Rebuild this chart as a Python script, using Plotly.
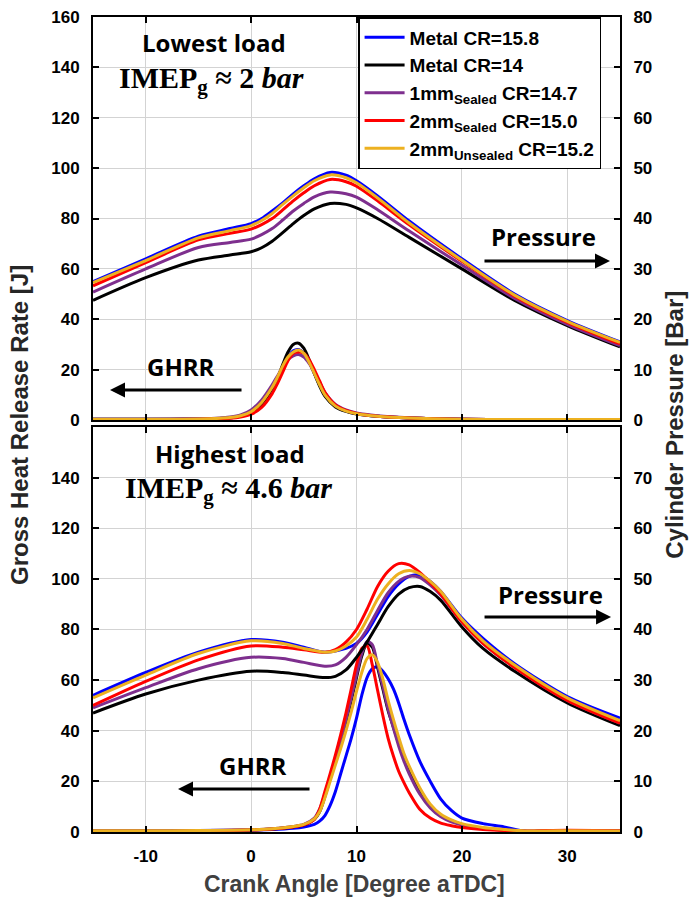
import plotly.graph_objects as go

# ---------------- data ----------------
series_names = [
    "Metal CR=15.8",
    "Metal CR=14",
    "1mm<sub>Sealed</sub> CR=14.7",
    "2mm<sub>Sealed</sub> CR=15.0",
    "2mm<sub>Unsealed</sub> CR=15.2",
]
series_colors = ["#0000FF", "#000000", "#7E2F8E", "#FF0000", "#EDB120"]

# Lowest load (IMEPg ~ 2 bar) -- GHRR [J]
ca_top_ghrr = [-15, -10, -5, -3, -2, -1, 0, 1, 2, 2.5, 3, 3.5, 4, 4.5, 5, 5.5, 6, 6.5, 7, 8, 9, 10, 12, 15, 20, 25, 30, 35]
ghrr_low_metal158 = [0.3, 0.3, 0.4, 0.6, 0.9, 1.5, 3, 6.5, 12.5, 16.5, 21, 25, 27.5, 28, 26.5, 23, 18.5, 14, 10, 5.5, 3.5, 2.5, 1.5, 0.8, 0.3, 0.2, 0.2, 0.2]
ghrr_low_metal14 = [0.3, 0.3, 0.4, 0.6, 0.9, 1.5, 3, 6.5, 12.5, 16.5, 22, 27, 30, 30.5, 28.5, 24, 18.5, 13.5, 9.5, 5.2, 3.4, 2.4, 1.5, 0.8, 0.3, 0.2, 0.2, 0.2]
ghrr_low_1mm_sealed = [0.3, 0.3, 0.5, 0.8, 1.2, 2, 4, 8, 14, 17.5, 21, 24, 25.5, 26, 25, 22.5, 19, 15, 11, 6.2, 4, 2.8, 1.7, 0.9, 0.3, 0.2, 0.2, 0.2]
ghrr_low_2mm_sealed = [0.2, 0.2, 0.3, 0.5, 0.7, 1.2, 2.3, 5, 10.5, 14.5, 19, 23.5, 26.5, 27, 26.5, 24, 20, 15.5, 11, 6, 3.8, 2.6, 1.5, 0.8, 0.3, 0.2, 0.2, 0.2]
ghrr_low_2mm_unsealed = [0.3, 0.3, 0.4, 0.7, 1, 1.7, 3.3, 7, 13, 17, 21.5, 25, 27, 27.8, 26.5, 23, 18.5, 14, 10, 5.5, 3.5, 2.5, 1.5, 0.8, 0.3, 0.2, 0.2, 0.2]

# Lowest load -- cylinder pressure [bar]
ca_top_p = [-15, -10, -5, -2, 0, 1, 2, 3, 4, 5, 6, 7.5, 9, 10, 12, 15, 20, 25, 30, 35]
p_low_metal158 = [27.45, 32.0, 36.5, 38.0, 39.0, 40.0, 41.5, 43.1, 44.9, 46.5, 47.9, 49.15, 48.6, 47.5, 44.5, 39.5, 32.0, 25.0, 19.75, 15.5]
p_low_metal14 = [23.75, 28.25, 31.75, 32.75, 33.4, 34.2, 35.5, 37.2, 39.0, 40.6, 41.9, 43.0, 42.8, 42.1, 40.0, 36.25, 30.0, 23.75, 18.75, 14.5]
p_low_1mm_sealed = [25.4, 30.0, 34.25, 35.25, 35.9, 36.8, 38.0, 39.7, 41.5, 43.0, 44.3, 45.25, 44.9, 44.25, 41.75, 37.5, 30.75, 24.15, 19.0, 14.75]
p_low_2mm_sealed = [26.65, 31.25, 35.75, 37.05, 37.9, 38.8, 40.0, 41.7, 43.5, 45.1, 46.5, 47.75, 47.3, 46.4, 43.5, 38.75, 31.5, 24.6, 19.4, 15.1]
p_low_2mm_unsealed = [27.25, 31.65, 36.15, 37.6, 38.6, 39.6, 41.0, 42.8, 44.5, 46.1, 47.5, 48.65, 48.1, 47.1, 44.1, 39.1, 31.7, 24.8, 19.6, 15.4]

# Highest load (IMEPg ~ 4.6 bar) -- GHRR [J]
ca_bot_ghrr = [-15, -10, -5, 0, 2, 4, 5, 6, 6.5, 7, 7.5, 8, 8.5, 9, 9.5, 10, 10.5, 11, 11.5, 12, 12.5, 13, 13.5, 14, 14.5, 15, 16, 17, 18, 19, 20, 22, 24, 26, 28, 30, 35]
ghrr_high_metal158 = [0.5, 0.5, 0.6, 0.8, 1, 1.5, 2, 3, 4.3, 6.5, 10.5, 16, 23, 30, 37, 45, 54, 61, 64.5, 65.3, 63.5, 60.5, 56.5, 51, 44.5, 38.5, 28, 20, 13, 8.5, 5.5, 3.3, 2, 0.3, 0.2, 0.2, 0.3]
ghrr_high_metal14 = [0.3, 0.3, 0.5, 0.8, 1.2, 2, 2.8, 5, 8, 14, 21, 28, 35.5, 43.5, 52, 61, 69.5, 74.5, 73, 65, 56.5, 48, 41.5, 35, 29, 24.5, 16, 10, 6.5, 4.5, 3, 1.5, 0.8, 0.3, 0.5, 0.6, 0.4]
ghrr_high_1mm_sealed = [0.5, 0.5, 0.6, 0.9, 1.3, 2.2, 3, 5.5, 9, 15, 22, 29, 36.5, 44.5, 53, 62, 70.5, 75.3, 74, 66, 57.5, 48.5, 41, 34, 28, 23, 15, 9.5, 6, 4, 2.8, 1.4, 0.7, 0.3, 0.5, 0.6, 0.4]
ghrr_high_2mm_sealed = [0.3, 0.3, 0.4, 0.8, 1.2, 2, 2.8, 5, 9, 16, 23, 30.5, 38.5, 47, 56.5, 66, 72.5, 73.5, 66, 56, 46, 37, 30, 24, 19.5, 15.5, 9, 5.5, 3.5, 2.5, 1.8, 1, 0.6, 0.4, 0.6, 0.7, 0.5]
ghrr_high_2mm_unsealed = [0.5, 0.5, 0.6, 0.9, 1.3, 2.2, 3, 5.2, 8, 13.5, 20, 26.5, 33, 40, 47.5, 55.5, 63, 68.5, 70, 67, 60.5, 52, 44.5, 37.5, 31, 26, 17.5, 11, 7, 4.8, 3.3, 1.8, 1, 0.4, 0.4, 0.5, 0.4]

# Highest load -- cylinder pressure [bar]
ca_bot_p = [-15, -10, -5, 0, 3, 5, 7, 8, 9, 10, 11, 12, 13, 14, 15, 16, 17, 18, 20, 22, 25, 30, 35]
p_high_metal158 = [27.0, 31.5, 35.5, 38.0, 37.5, 36.5, 35.5, 35.75, 36.25, 37.25, 39.5, 43.0, 46.5, 49.0, 50.5, 50.75, 49.5, 47.5, 42.25, 38.25, 33.25, 26.75, 22.5]
p_high_metal14 = [23.5, 27.25, 30.0, 31.75, 31.5, 31.0, 30.5, 30.75, 32.0, 34.5, 37.5, 41.0, 44.5, 47.0, 48.25, 48.5, 47.5, 45.75, 40.5, 36.25, 31.75, 25.5, 21.0]
p_high_1mm_sealed = [24.5, 28.5, 32.25, 34.5, 34.25, 33.5, 32.75, 33.0, 34.5, 37.0, 40.0, 43.75, 47.25, 49.5, 50.5, 50.25, 48.75, 46.75, 41.5, 37.25, 32.5, 26.0, 21.5]
p_high_2mm_sealed = [25.0, 29.75, 34.0, 36.75, 36.5, 36.0, 35.5, 36.0, 37.5, 40.0, 44.0, 48.5, 51.5, 53.0, 52.75, 51.25, 49.25, 47.0, 41.5, 37.25, 32.5, 26.0, 21.5]
p_high_2mm_unsealed = [26.5, 31.0, 35.25, 37.75, 37.25, 36.25, 35.5, 35.75, 36.75, 38.5, 42.0, 46.0, 49.0, 51.0, 51.65, 51.0, 49.5, 47.5, 42.0, 37.75, 33.0, 26.5, 22.0]

ghrr_low = [ghrr_low_metal158, ghrr_low_metal14, ghrr_low_1mm_sealed, ghrr_low_2mm_sealed, ghrr_low_2mm_unsealed]
p_low = [p_low_metal158, p_low_metal14, p_low_1mm_sealed, p_low_2mm_sealed, p_low_2mm_unsealed]
ghrr_high = [ghrr_high_metal158, ghrr_high_metal14, ghrr_high_1mm_sealed, ghrr_high_2mm_sealed, ghrr_high_2mm_unsealed]
p_high = [p_high_metal158, p_high_metal14, p_high_1mm_sealed, p_high_2mm_sealed, p_high_2mm_unsealed]

x_ticks = [-10, 0, 10, 20, 30]
x_ticklabels = ["-10", "0", "10", "20", "30"]
ghrr_ticks_top = [0, 20, 40, 60, 80, 100, 120, 140, 160]
ghrr_ticks_bot = [0, 20, 40, 60, 80, 100, 120, 140]
p_ticks_top = [0, 10, 20, 30, 40, 50, 60, 70, 80]
p_ticks_bot = [0, 10, 20, 30, 40, 50, 60, 70]

# ---------------- figure ----------------
fig = go.Figure()
LW = 3
for i, (name, col) in enumerate(zip(series_names, series_colors)):
    line = dict(color=col, width=LW, shape="spline", smoothing=0.8)
    fig.add_trace(go.Scatter(x=ca_top_ghrr, y=ghrr_low[i], name=name, legendgroup=name, line=line,
                             mode="lines", xaxis="x2", yaxis="y", showlegend=True))
    fig.add_trace(go.Scatter(x=ca_top_p, y=p_low[i], name=name, legendgroup=name, line=line,
                             mode="lines", xaxis="x2", yaxis="y2", showlegend=False))
    fig.add_trace(go.Scatter(x=ca_bot_ghrr, y=ghrr_high[i], name=name, legendgroup=name, line=line,
                             mode="lines", xaxis="x", yaxis="y3", showlegend=False))
    fig.add_trace(go.Scatter(x=ca_bot_p, y=p_high[i], name=name, legendgroup=name, line=line,
                             mode="lines", xaxis="x", yaxis="y4", showlegend=False))

tickfont = dict(family="Liberation Sans, Arial", size=17, color="#000000", weight="bold")
GRID = "#d3d3d3"

axbase = dict(showline=True, linecolor="black", linewidth=2, ticks="inside", ticklen=6, tickwidth=2,
              tickcolor="black", zeroline=False, tickfont=tickfont, ticklabelstandoff=8, automargin=False)

fig.update_layout(
    width=693, height=900,
    margin=dict(l=93, r=73, t=17, b=68),
    paper_bgcolor="white", plot_bgcolor="white",
    showlegend=True,
    xaxis=dict(**axbase, range=[-15, 35], tickvals=x_ticks, ticktext=x_ticklabels, showgrid=True,
               gridcolor=GRID, gridwidth=1, mirror="ticks", anchor="y3", domain=[0, 1]),
    xaxis2=dict(**axbase, range=[-15, 35], tickvals=x_ticks, showgrid=True, gridcolor=GRID, gridwidth=1,
                mirror="ticks", anchor="y", domain=[0, 1], showticklabels=False, matches="x"),
    yaxis=dict(**axbase, domain=[0.5055, 1], range=[0, 160], tickvals=ghrr_ticks_top, anchor="x2",
               showgrid=True, gridcolor=GRID),
    yaxis2=dict(**axbase, range=[0, 80], tickvals=p_ticks_top, overlaying="y", side="right", anchor="x2",
                showgrid=False),
    yaxis3=dict(**axbase, domain=[0, 0.497], range=[0, 160], tickvals=ghrr_ticks_bot, anchor="x",
                showgrid=True, gridcolor=GRID),
    yaxis4=dict(**axbase, range=[0, 80], tickvals=p_ticks_bot, overlaying="y3", side="right", anchor="x",
                showgrid=False),
    legend=dict(x=0.503, y=1.0, xanchor="left", yanchor="top",
                bgcolor="white", bordercolor="black", borderwidth=1.5,
                font=dict(family="Liberation Sans, Arial", size=19, color="black", weight="bold"),
                tracegroupgap=0, itemwidth=40),
)

label_font = dict(family="Open Sans", size=24, color="black", weight="bold")
imep_font = dict(family="Liberation Serif", size=30, color="black", weight="bold")
ytitle_font = dict(family="Liberation Sans, Arial", size=24, color="#262626", weight="bold")
xtitle_font = dict(family="Liberation Sans, Arial", size=23, color="#404040", weight="bold")

annos = [
    dict(text="Lowest load", x=0.2296, y=0.9693, font=label_font),
    dict(text="IMEP<sub>g</sub> ≈ 2 <i>bar</i>", x=0.2258, y=0.9227, font=imep_font),
    dict(text="Highest load", x=0.26, y=0.465, font=label_font),
    dict(text="IMEP<sub>g</sub> ≈ 4.6 <i>bar</i>", x=0.2562, y=0.4196, font=imep_font),
    dict(text="Pressure", x=0.854, y=0.731, font=label_font),
    dict(text="GHRR", x=0.167, y=0.5706, font=label_font),
    dict(text="Pressure", x=0.869, y=0.2908, font=label_font),
    dict(text="GHRR", x=0.3036, y=0.0822, font=label_font),
    dict(text="Crank Angle [Degree aTDC]", x=0.497, y=-0.0638, font=xtitle_font),
    dict(text="Gross Heat Release Rate [J]", x=-0.1385, y=0.4994, textangle=-90, font=ytitle_font),
    dict(text="Cylinder Pressure [Bar]", x=1.104, y=0.4994, textangle=-90, font=ytitle_font),
]
for a in annos:
    fig.add_annotation(xref="paper", yref="paper", showarrow=False, xanchor="center", yanchor="middle", **a)

arrows = [
    (0.981, 0.7006, -127),
    (0.0323, 0.5423, 133),
    (0.983, 0.2638, -128),
    (0.1613, 0.0528, 133),
]
for hx, hy, ax in arrows:
    fig.add_annotation(xref="paper", yref="paper", x=hx, y=hy, ax=ax, ay=0, text="",
                       showarrow=True, arrowhead=2, arrowsize=1, arrowwidth=3, arrowcolor="black")

fig.write_html("out.html", config={"displayModeBar": False},
               post_script="document.body.style.margin='0';document.body.style.padding='0';")
